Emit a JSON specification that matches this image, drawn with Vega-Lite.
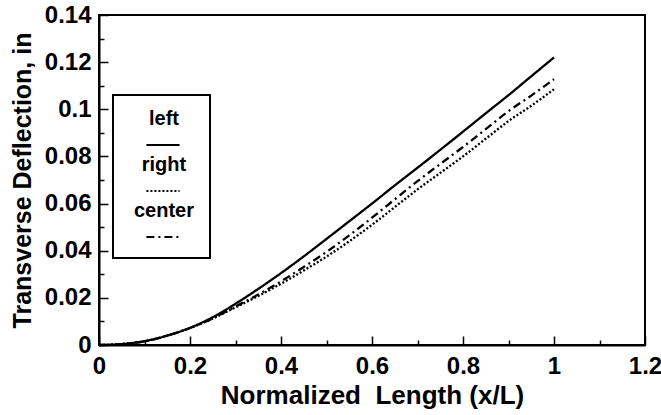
{
  "$schema": "https://vega.github.io/schema/vega-lite/v6.json",
  "width": 546,
  "height": 330,
  "autosize": {"type": "none"},
  "padding": {"left": 99, "top": 15, "right": 16, "bottom": 70},
  "background": "white",
  "config": {
    "font": "Liberation Sans",
    "view": {"stroke": "black", "strokeWidth": 2},
    "legend": {"strokeWidth": 2}
  },
  "data": {
    "values": [
      {"x": 0, "series": "left", "y": 0}, {"x": 0.05, "series": "left", "y": 0.0004}, {"x": 0.1, "series": "left", "y": 0.0016}, {"x": 0.15, "series": "left", "y": 0.004}, {"x": 0.2, "series": "left", "y": 0.0073}, {"x": 0.25, "series": "left", "y": 0.0118}, {"x": 0.3, "series": "left", "y": 0.0175}, {"x": 0.35, "series": "left", "y": 0.0238}, {"x": 0.4, "series": "left", "y": 0.0305}, {"x": 0.45, "series": "left", "y": 0.0376}, {"x": 0.5, "series": "left", "y": 0.045}, {"x": 0.55, "series": "left", "y": 0.0525}, {"x": 0.6, "series": "left", "y": 0.06}, {"x": 0.65, "series": "left", "y": 0.0677}, {"x": 0.7, "series": "left", "y": 0.0752}, {"x": 0.75, "series": "left", "y": 0.0828}, {"x": 0.8, "series": "left", "y": 0.0905}, {"x": 0.85, "series": "left", "y": 0.0983}, {"x": 0.9, "series": "left", "y": 0.106}, {"x": 0.95, "series": "left", "y": 0.114}, {"x": 1.0, "series": "left", "y": 0.122},
      {"x": 0, "series": "right", "y": 0}, {"x": 0.05, "series": "right", "y": 0.0004}, {"x": 0.1, "series": "right", "y": 0.0016}, {"x": 0.15, "series": "right", "y": 0.004}, {"x": 0.2, "series": "right", "y": 0.0072}, {"x": 0.25, "series": "right", "y": 0.0112}, {"x": 0.3, "series": "right", "y": 0.016}, {"x": 0.35, "series": "right", "y": 0.0208}, {"x": 0.4, "series": "right", "y": 0.026}, {"x": 0.45, "series": "right", "y": 0.0316}, {"x": 0.5, "series": "right", "y": 0.0375}, {"x": 0.55, "series": "right", "y": 0.044}, {"x": 0.6, "series": "right", "y": 0.051}, {"x": 0.65, "series": "right", "y": 0.0585}, {"x": 0.7, "series": "right", "y": 0.066}, {"x": 0.75, "series": "right", "y": 0.073}, {"x": 0.8, "series": "right", "y": 0.08}, {"x": 0.85, "series": "right", "y": 0.0875}, {"x": 0.9, "series": "right", "y": 0.095}, {"x": 0.95, "series": "right", "y": 0.1015}, {"x": 1.0, "series": "right", "y": 0.1085},
      {"x": 0, "series": "center", "y": 0}, {"x": 0.05, "series": "center", "y": 0.0004}, {"x": 0.1, "series": "center", "y": 0.0016}, {"x": 0.15, "series": "center", "y": 0.004}, {"x": 0.2, "series": "center", "y": 0.0072}, {"x": 0.25, "series": "center", "y": 0.0113}, {"x": 0.3, "series": "center", "y": 0.0163}, {"x": 0.35, "series": "center", "y": 0.0214}, {"x": 0.4, "series": "center", "y": 0.027}, {"x": 0.45, "series": "center", "y": 0.0331}, {"x": 0.5, "series": "center", "y": 0.0395}, {"x": 0.55, "series": "center", "y": 0.0465}, {"x": 0.6, "series": "center", "y": 0.054}, {"x": 0.65, "series": "center", "y": 0.0618}, {"x": 0.7, "series": "center", "y": 0.0695}, {"x": 0.75, "series": "center", "y": 0.0768}, {"x": 0.8, "series": "center", "y": 0.084}, {"x": 0.85, "series": "center", "y": 0.0916}, {"x": 0.9, "series": "center", "y": 0.0992}, {"x": 0.95, "series": "center", "y": 0.1058}, {"x": 1.0, "series": "center", "y": 0.1128}
    ]
  },
  "mark": {"type": "line", "color": "black", "strokeWidth": 2.3, "interpolate": "monotone"},
  "encoding": {
    "x": {
      "field": "x", "type": "quantitative",
      "scale": {"domain": [0, 1.2], "nice": false, "zero": false},
      "axis": {
        "title": "Normalized\u00a0 Length (x/L)",
        "values": [0, 0.1, 0.2, 0.3, 0.4, 0.5, 0.6, 0.7, 0.8, 0.9, 1.0, 1.1, 1.2],
        "format": ".1~f",
        "labelExpr": "round(datum.value*10)%2==0 ? datum.label : ''",
        "tickSize": {"condition": {"test": "round(datum.value*10)%2==0", "value": -9}, "value": -5},
        "tickColor": "black", "tickWidth": 1.5,
        "domainColor": "black", "domainWidth": 2,
        "grid": false, "labelFlush": false, "labelOverlap": false,
        "labelFontSize": 24, "labelFontWeight": "bold", "labelColor": "black", "labelPadding": 18,
        "titleFontSize": 26, "titleFontWeight": "bold", "titleColor": "black", "titlePadding": 0
      }
    },
    "y": {
      "field": "y", "type": "quantitative",
      "scale": {"domain": [0, 0.14], "nice": false},
      "axis": {
        "title": "Transverse Deflection, in",
        "values": [0, 0.01, 0.02, 0.03, 0.04, 0.05, 0.06, 0.07, 0.08, 0.09, 0.1, 0.11, 0.12, 0.13, 0.14],
        "format": ".2~f",
        "labelExpr": "round(datum.value*100)%2==0 ? datum.label : ''",
        "tickSize": {"condition": {"test": "round(datum.value*100)%2==0", "value": -9}, "value": -5},
        "tickColor": "black", "tickWidth": 1.5,
        "domainColor": "black", "domainWidth": 2,
        "grid": false, "labelFlush": false, "labelOverlap": false,
        "labelFontSize": 24, "labelFontWeight": "bold", "labelColor": "black", "labelPadding": 17,
        "titleFontSize": 25, "titleFontWeight": "bold", "titleColor": "black", "titlePadding": 9
      }
    },
    "strokeDash": {
      "field": "series", "type": "nominal",
      "scale": {"domain": ["left", "right", "center"], "range": [[1, 0], [2, 2], [8, 4, 2, 4]]},
      "legend": {
        "orient": "none", "legendX": 14, "legendY": 80,
        "title": "\u00a0", "titleFontSize": 12, "titlePadding": 5,
        "symbolType": "stroke", "symbolSize": 1100, "symbolStrokeWidth": 2, "symbolStrokeColor": "black",
        "symbolOffset": 17,
        "labelFontSize": 20, "labelFontWeight": "bold", "labelColor": "black",
        "labelAlign": "center", "labelBaseline": "bottom", "labelOffset": -17,
        "labelExpr": "datum.label == 'center' ? [datum.label, ''] : datum.label",
        "strokeColor": "black", "padding": 15, "rowPadding": 6,
        "encode": {"labels": {"update": {"dy": {"value": -16}}}}
      }
    }
  }
}
